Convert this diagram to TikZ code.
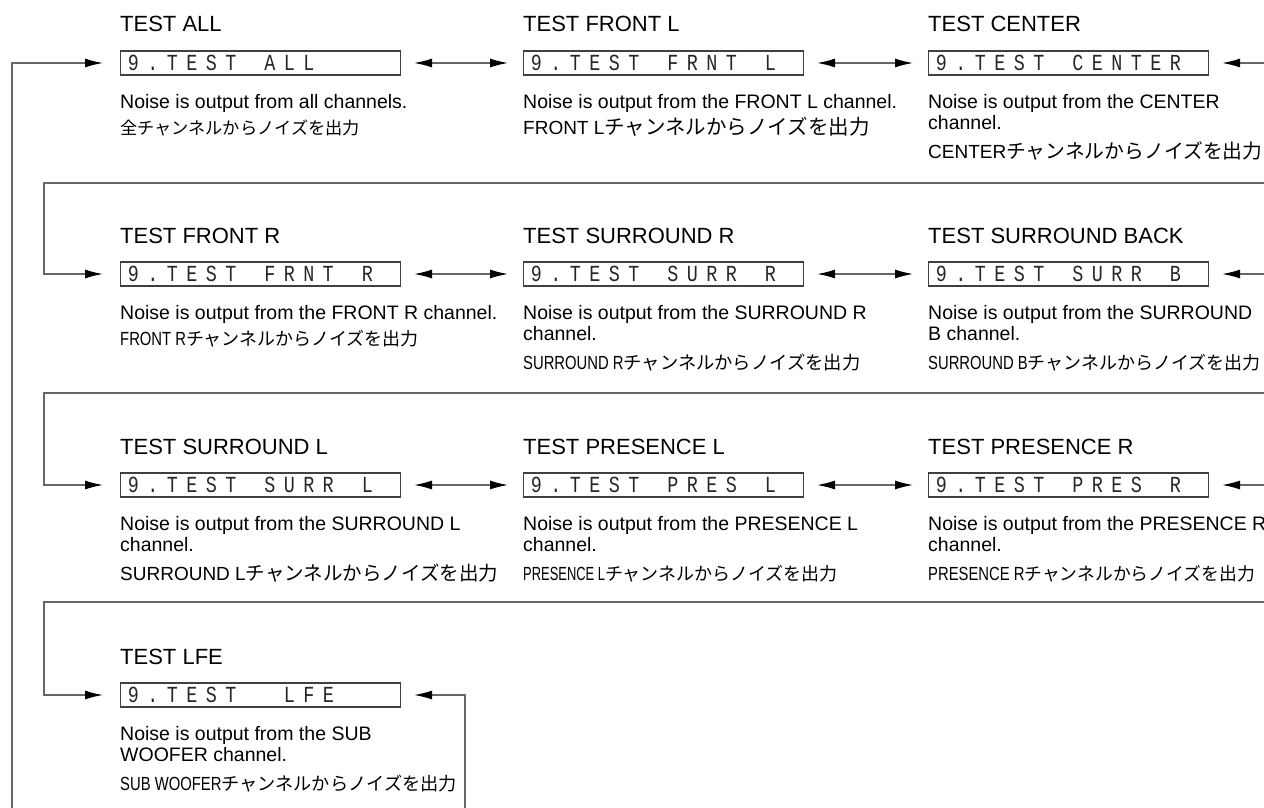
\documentclass[tikz,border=0pt]{standalone}
\usepackage{fontspec}
\setmainfont{Liberation Sans}
\newfontfamily\cjk{Noto Sans CJK JP}
\newfontfamily\narrowsans[FakeStretch=0.78]{Liberation Sans}
\newfontfamily\narrowersans[FakeStretch=0.68]{Liberation Sans}
\newfontfamily\lcdfont[FakeStretch=0.8]{Liberation Mono}
\usetikzlibrary{arrows.meta}

\newcommand\lcdcell[1]{\makebox[19.5pt][c]{#1}}
\def\lcdloop#1{\ifx#1\relax\else\lcdcell{#1}\expandafter\lcdloop\fi}
\newcommand\lcdtext[1]{\hbox to 280pt{\hskip3pt\lcdfont\fontsize{23}{23}\selectfont\color{black!85}\lcdloop#1\relax\hfil}}
% #1 latin font switch, #2 latin text, #3 Japanese size, #4 Japanese text
\newcommand\jpl[4]{{#1#2}{\cjk\fontsize{#3}{#3}\selectfont #4}}

\tikzset{
  ttl/.style={anchor=base west, inner sep=0pt, font=\fontsize{22}{26}\selectfont},
  dsc/.style={anchor=base west, inner sep=0pt, font=\fontsize{19.5}{22}\selectfont},
  jpline/.style={anchor=base west, inner sep=0pt, font=\fontsize{19}{22}\selectfont},
  lcdbox/.style={draw=black!75, line width=1.1pt, minimum height=24pt, inner sep=0pt, anchor=west},
  conn/.style={draw=black!60, line width=1.3pt},
  tip/.style={-{Latex[length=18pt,width=9pt,color=black]}},
  dbl/.style={conn, {Latex[length=18pt,width=9pt,color=black]}-{Latex[length=18pt,width=9pt,color=black]}, shorten <=13pt, shorten >=15pt}
}

\begin{document}
\begin{tikzpicture}[x=1pt,y=-1pt]
\useasboundingbox (0,0) rectangle (1264,808);

% ---------- Row 1 ----------
\node[ttl] (t1) at (120,32) {TEST ALL};
\node[lcdbox] (b1) at (120,63) {\lcdtext{9.TEST~ALL}};
\node[dsc] (d1a) at (120,108) {Noise is output from all channels.};
\node[jpline] (d1c) at (120,134) {\jpl{}{}{17.2}{全チャンネルからノイズを出力}};

\node[ttl] (t2) at (523,32) {TEST FRONT L};
\node[lcdbox] (b2) at (523,63) {\lcdtext{9.TEST~FRNT~L}};
\node[dsc] (d2a) at (523,108) {Noise is output from the FRONT L channel.};
\node[jpline] (d2c) at (523,134) {\jpl{}{FRONT L}{20.5}{チャンネルからノイズを出力}};

\node[ttl] (t3) at (928,32) {TEST CENTER};
\node[lcdbox] (b3) at (928,63) {\lcdtext{9.TEST~CENTER}};
\node[dsc] (d3a) at (928,108) {Noise is output from the CENTER};
\node[dsc] (d3b) at (928,129) {channel.};
\node[jpline] (d3c) at (928,158) {\jpl{}{CENTER}{19.8}{チャンネルからノイズを出力}};

% ---------- Row 2 ----------
\node[ttl] (t4) at (120,243) {TEST FRONT R};
\node[lcdbox] (b4) at (120,274) {\lcdtext{9.TEST~FRNT~R}};
\node[dsc] (d4a) at (120,319) {Noise is output from the FRONT R channel.};
\node[jpline] (d4c) at (120,345) {\jpl{\narrowsans}{FRONT R}{18}{チャンネルからノイズを出力}};

\node[ttl] (t5) at (523,243) {TEST SURROUND R};
\node[lcdbox] (b5) at (523,274) {\lcdtext{9.TEST~SURR~R}};
\node[dsc] (d5a) at (523,319) {Noise is output from the SURROUND R};
\node[dsc] (d5b) at (523,340) {channel.};
\node[jpline] (d5c) at (523,369) {\jpl{\narrowsans}{SURROUND R}{18.3}{チャンネルからノイズを出力}};

\node[ttl] (t6) at (928,243) {TEST SURROUND BACK};
\node[lcdbox] (b6) at (928,274) {\lcdtext{9.TEST~SURR~B}};
\node[dsc] (d6a) at (928,319) {Noise is output from the SURROUND};
\node[dsc] (d6b) at (928,340) {B channel.};
\node[jpline] (d6c) at (928,369) {\jpl{\narrowsans}{SURROUND B}{18}{チャンネルからノイズを出力}};

% ---------- Row 3 ----------
\node[ttl] (t7) at (120,454) {TEST SURROUND L};
\node[lcdbox] (b7) at (120,485) {\lcdtext{9.TEST~SURR~L}};
\node[dsc] (d7a) at (120,530) {Noise is output from the SURROUND L};
\node[dsc] (d7b) at (120,551) {channel.};
\node[jpline] (d7c) at (120,580) {\jpl{}{SURROUND L}{19.5}{チャンネルからノイズを出力}};

\node[ttl] (t8) at (523,454) {TEST PRESENCE L};
\node[lcdbox] (b8) at (523,485) {\lcdtext{9.TEST~PRES~L}};
\node[dsc] (d8a) at (523,530) {Noise is output from the PRESENCE L};
\node[dsc] (d8b) at (523,551) {channel.};
\node[jpline] (d8c) at (523,580) {\jpl{\narrowersans}{PRESENCE L}{18}{チャンネルからノイズを出力}};

\node[ttl] (t9) at (928,454) {TEST PRESENCE R};
\node[lcdbox] (b9) at (928,485) {\lcdtext{9.TEST~PRES~R}};
\node[dsc] (d9a) at (928,530) {Noise is output from the PRESENCE R};
\node[dsc] (d9b) at (928,551) {channel.};
\node[jpline] (d9c) at (928,580) {\jpl{\narrowsans}{PRESENCE R}{17.8}{チャンネルからノイズを出力}};

% ---------- Row 4 ----------
\node[ttl] (t10) at (120,664) {TEST LFE};
\node[lcdbox] (b10) at (120,695) {\lcdtext{9.TEST~~LFE}};
\node[dsc] (d10a) at (120,740) {Noise is output from the SUB};
\node[dsc] (d10b) at (120,761) {WOOFER channel.};
\node[jpline] (d10c) at (120,790) {\jpl{\narrowsans}{SUB WOOFER}{18.2}{チャンネルからノイズを出力}};

% ---------- connectors ----------
\draw[dbl] (b1.east) -- (b2.west);
\draw[dbl] (b2.east) -- (b3.west);
\draw[dbl] (b4.east) -- (b5.west);
\draw[dbl] (b5.east) -- (b6.west);
\draw[dbl] (b7.east) -- (b8.west);
\draw[dbl] (b8.east) -- (b9.west);

\coordinate (r1) at (1264,63);
\coordinate (r2) at (1264,274);
\coordinate (r3) at (1264,485);
\draw[conn, tip, shorten >=13pt] (r1) -- (b3.east);
\draw[conn, tip, shorten >=13pt] (r2) -- (b6.east);
\draw[conn, tip, shorten >=13pt] (r3) -- (b9.east);

\coordinate (e1) at (1264,183);
\coordinate (w1) at (44,183);
\coordinate (e2) at (1264,393);
\coordinate (w2) at (44,393);
\coordinate (e3) at (1264,602);
\coordinate (w3) at (44,602);
\draw[conn, tip, shorten >=17pt] (e1) -- (w1) |- (b4.west);
\draw[conn, tip, shorten >=17pt] (e2) -- (w2) |- (b7.west);
\draw[conn, tip, shorten >=17pt] (e3) -- (w3) |- (b10.west);

\coordinate (o1) at (12,808);
\coordinate (o2) at (465,808);
\draw[conn, tip, shorten >=17pt] (o1) |- (b1.west);
\draw[conn, tip, shorten >=13pt] (o2) |- (b10.east);
\end{tikzpicture}
\end{document}
